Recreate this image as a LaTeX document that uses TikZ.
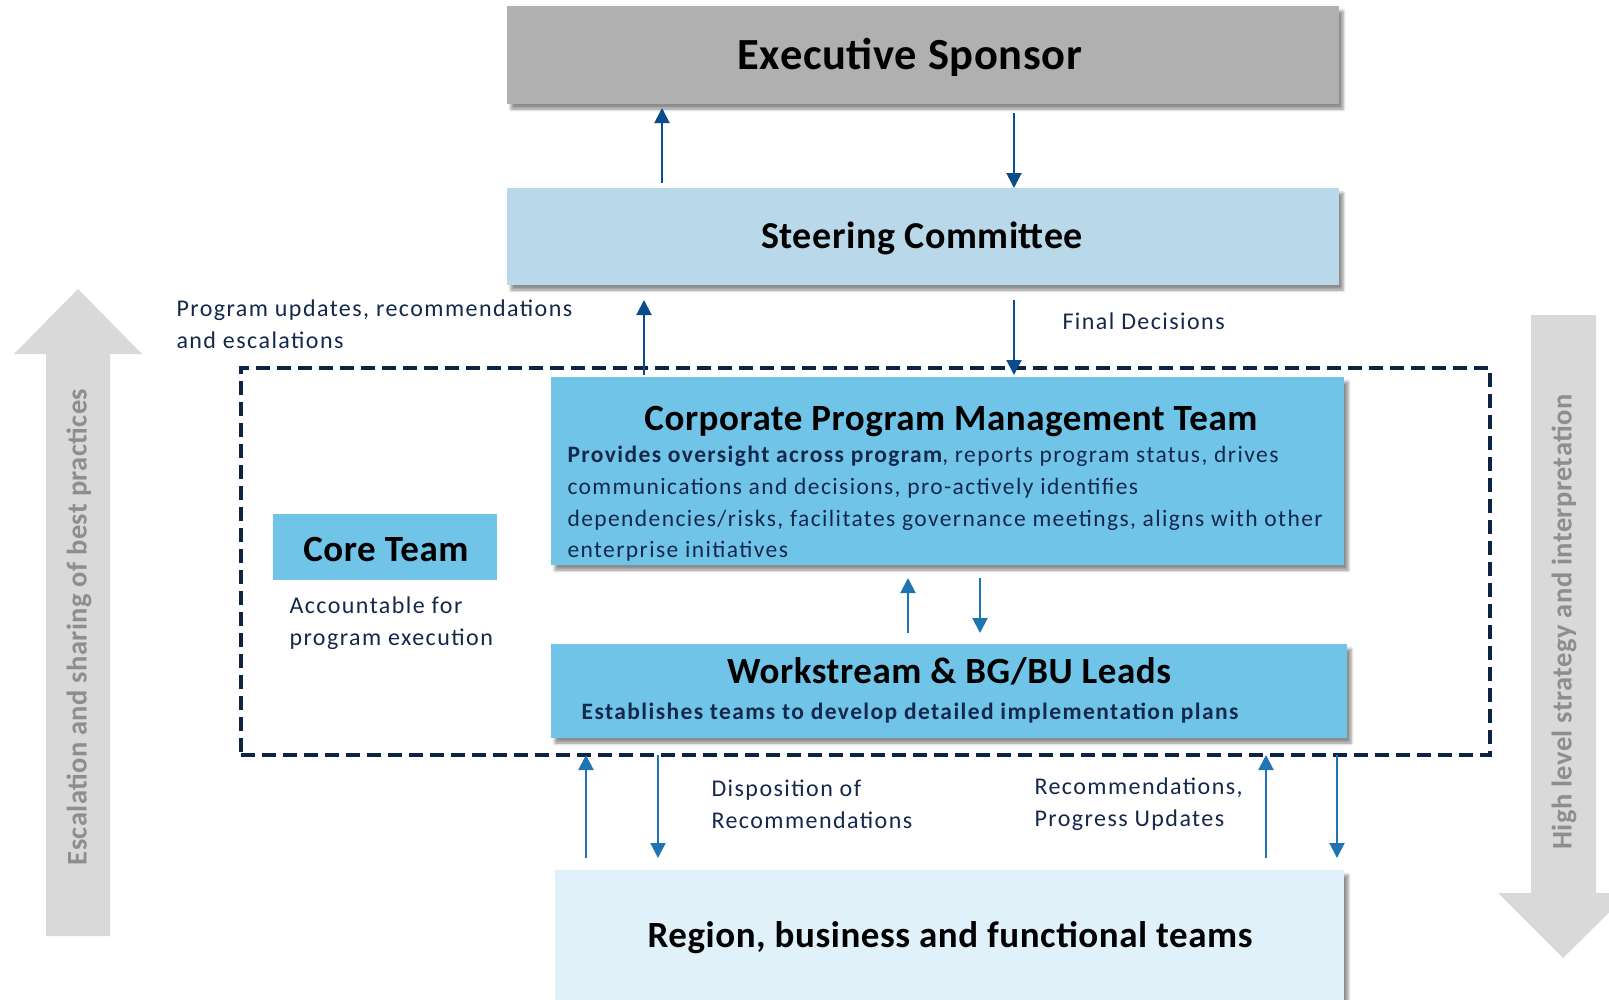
\documentclass[tikz,border=0pt]{standalone}
\usepackage{fontspec}
\setmainfont{Carlito}
\newfontfamily\spacedfont[LetterSpace=6]{Carlito}
\newfontfamily\titlefont[LetterSpace=1.5]{Carlito}
\usetikzlibrary{arrows.meta,shadows.blur}

\definecolor{execgray}{HTML}{B0B0B0}
\definecolor{steerblue}{HTML}{B9D9EB}
\definecolor{teamblue}{HTML}{70C4E8}
\definecolor{paleblue}{HTML}{E0F1F9}
\definecolor{framenavy}{HTML}{0C2344}
\definecolor{textnavy}{HTML}{14284C}
\definecolor{darkarrow}{HTML}{0B4C8C}
\definecolor{lightarrow}{HTML}{1F75B2}
\definecolor{bigarrow}{HTML}{D9D9D9}
\definecolor{sidegray}{HTML}{8E8E8E}

\begin{document}
\begin{tikzpicture}[x=1pt, y=-1pt,
    box/.style={rectangle, inner sep=0pt, outer sep=0pt,
        blur shadow={shadow xshift=4pt, shadow yshift=-5pt,
            shadow blur radius=3pt, shadow opacity=45}},
    title/.style={font=\titlefont\bfseries\fontsize{37}{42}\selectfont, text=black},
    body/.style={font=\spacedfont\fontsize{23.5}{31.7}\selectfont, text=textnavy, align=left},
    label/.style={font=\spacedfont\fontsize{24}{32}\selectfont, text=textnavy, align=left, anchor=west},
    sidetext/.style={font=\titlefont\bfseries\fontsize{28.5}{32}\selectfont, text=sidegray},
    uparrow/.style={darkarrow, line width=2pt, -{Triangle[length=15pt, width=15pt]}},
    lowarrow/.style={lightarrow, line width=2pt, -{Triangle[length=15pt, width=15pt]}}
]
    \useasboundingbox (0,0) rectangle (1609,999);

    % big side arrows
    \fill[bigarrow] (46,936) -- (46,354) -- (14,354) -- (78,289) -- (142,354)
        -- (110,354) -- (110,936) -- cycle;
    \fill[bigarrow] (1531,315) -- (1596,315) -- (1596,893) -- (1629,893)
        -- (1563,958) -- (1498,893) -- (1531,893) -- cycle;
    \node[sidetext, rotate=90] (escalation) at (79,627)
        {Escalation and sharing of best practices};
    \node[sidetext, rotate=90] (strategy) at (1564,622)
        {High level strategy and interpretation};

    % boxes
    \node[box, fill=execgray, minimum width=832pt, minimum height=98pt] (exec) at (923,55) {};
    \node[title, font=\titlefont\bfseries\fontsize{44.5}{48}\selectfont] (exectext) at (910,57) {Executive Sponsor};
    \node[box, fill=steerblue, minimum width=832pt, minimum height=97pt] (steer) at (923,236.5) {};
    \node[title, font=\titlefont\bfseries\fontsize{38}{42}\selectfont] (steertext) at (922,238) {Steering Committee};

    \node[draw=framenavy, line width=4pt, dash pattern=on 14pt off 7pt, outer sep=0pt,
        inner sep=0pt, minimum width=1249pt, minimum height=387pt] (frame) at (865.5,561.5) {};

    \node[box, fill=teamblue, minimum width=793pt, minimum height=188pt] (cpmt) at (947.5,471) {};
    \node[title] (cpmttext) at (951,421) {Corporate Program Management Team};
    \node[body, anchor=west] (cpmtbody) at (564,504)
        {\textbf{Provides oversight across program}, reports program status, drives\\
         communications and decisions, pro-actively identifies\\
         dependencies/risks, facilitates governance meetings, aligns with other\\
         enterprise initiatives};

    \node[rectangle, fill=teamblue, minimum width=224pt, minimum height=66pt] (core) at (385,547) {};
    \node[title] (coretext) at (386,549) {Core Team};
    \node[label] (accountable) at (286,623) {Accountable for\\program execution};

    \node[box, fill=teamblue, minimum width=796pt, minimum height=94pt] (ws) at (949,691) {};
    \node[title] (wstext) at (949,671) {Workstream \& BG/BU Leads};
    \node[body, font=\spacedfont\bfseries\fontsize{23.5}{28}\selectfont] (wsbody) at (910,713)
        {Establishes teams to develop detailed implementation plans};

    \node[box, fill=paleblue, minimum width=789pt, minimum height=135pt] (region) at (949.5,937.5) {};
    \node[title] (regiontext) at (950,938) {Region, business and functional teams};

    % labels
    \node[label] (updates) at (173,324) {Program updates, recommendations\\and escalations};
    \node[label] (decisions) at (1059,321) {Final Decisions};
    \node[label] (disposition) at (708,804) {Disposition of\\Recommendations};
    \node[label] (progress) at (1031,804) {Recommendations,\\Progress Updates};

    % connectors
    \draw[uparrow] ([xshift=-261pt, yshift=5pt]steer.north) -- ([xshift=-261pt, yshift=-4pt]exec.south);
    \draw[uparrow] ([xshift=91pt, yshift=-9pt]exec.south) -- ([xshift=91pt]steer.north);
    \draw[uparrow] ([xshift=-303.5pt, yshift=2pt]cpmt.north) -- ([xshift=-279pt, yshift=-15pt]steer.south);
    \draw[uparrow] ([xshift=91pt, yshift=-15pt]steer.south) -- ([xshift=66.5pt, yshift=2pt]cpmt.north);
    \draw[lowarrow] ([xshift=-41pt, yshift=11pt]ws.north) -- ([xshift=-39.5pt, yshift=-13pt]cpmt.south);
    \draw[lowarrow] ([xshift=32.5pt, yshift=-13pt]cpmt.south) -- ([xshift=31pt, yshift=11pt]ws.north);
    \draw[lowarrow] ([xshift=-363.5pt, yshift=12pt]region.north) -- ([xshift=-279.5pt]frame.south);
    \draw[lowarrow] ([xshift=-207.5pt]frame.south) -- ([xshift=-291.5pt, yshift=12pt]region.north);
    \draw[lowarrow] ([xshift=316.5pt, yshift=12pt]region.north) -- ([xshift=400.5pt]frame.south);
    \draw[lowarrow] ([xshift=471.5pt]frame.south) -- ([xshift=387.5pt, yshift=12pt]region.north);
\end{tikzpicture}
\end{document}
